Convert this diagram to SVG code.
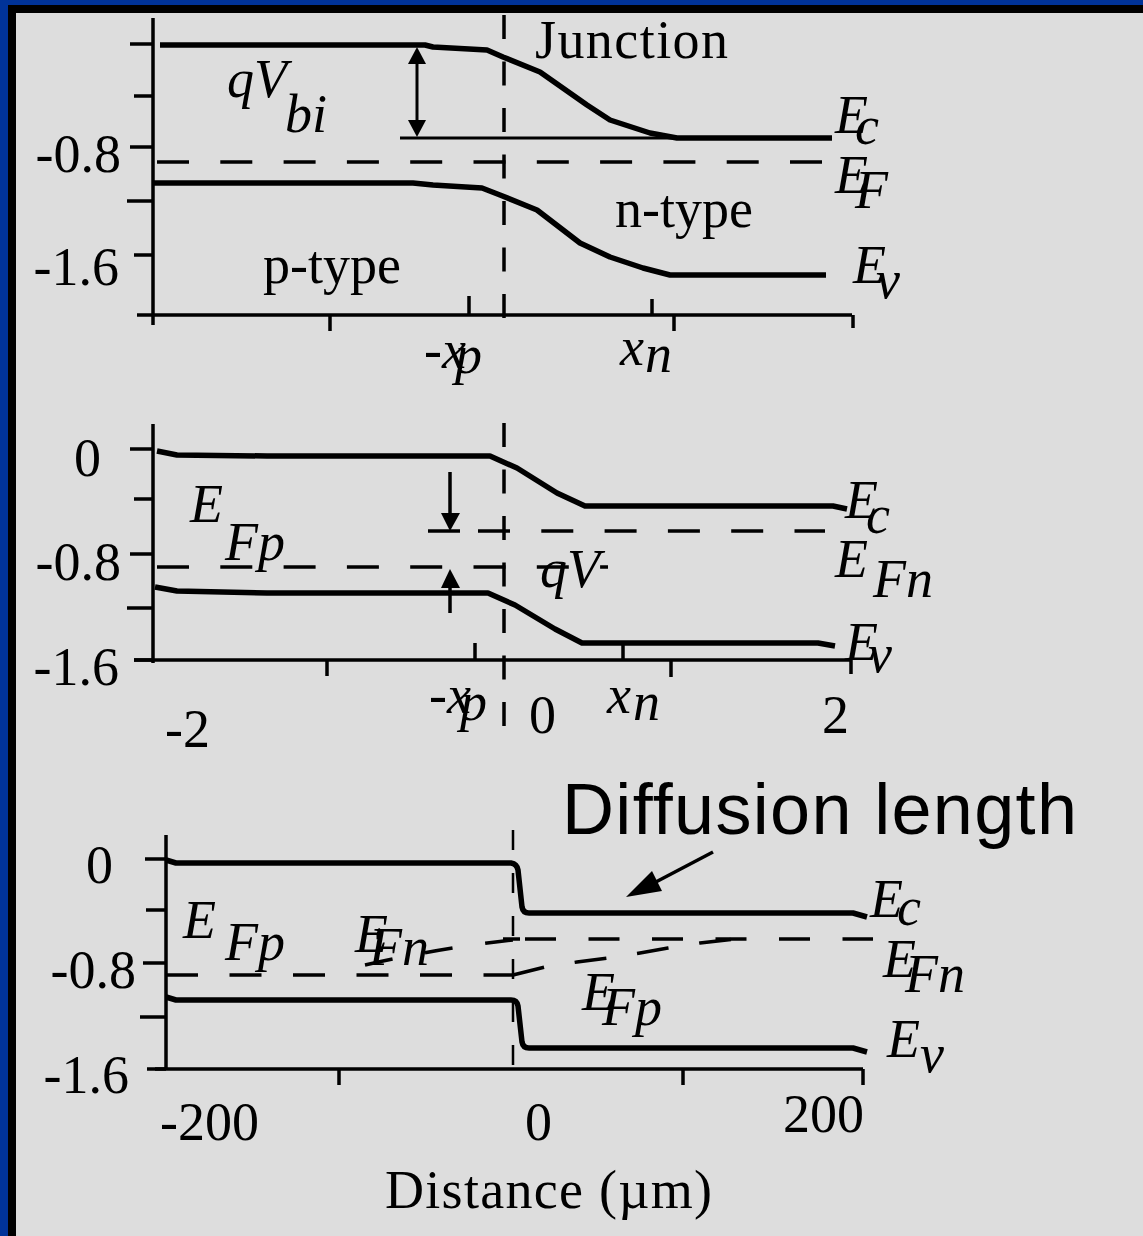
<svg xmlns="http://www.w3.org/2000/svg" width="1143" height="1236" viewBox="0 0 1143 1236">
<style>
.band{fill:none;stroke:#000;stroke-width:5.5;stroke-linejoin:round;stroke-linecap:butt}
.ax{fill:none;stroke:#000;stroke-width:3.5}
.thin{fill:none;stroke:#000;stroke-width:3}
.dash{fill:none;stroke:#000;stroke-width:3.5;stroke-dasharray:32 31.3}
.vdash{fill:none;stroke:#000;stroke-width:3.5;stroke-dasharray:24 22.5}
.t{font-family:"Liberation Serif","Times New Roman",serif;font-size:54px;fill:#000}
.i{font-style:italic}
.sans{font-family:"Liberation Sans",Arial,sans-serif;font-size:72px;fill:#000}
</style>
<g id="frame">
<rect x="0" y="0" width="1143" height="1236" fill="#dddddd"/>
<rect x="0" y="0" width="1143" height="5" fill="#003399"/>
<rect x="0" y="0" width="8" height="1236" fill="#003399"/>
<rect x="8" y="5" width="1135" height="8" fill="#000"/>
<rect x="8" y="5" width="8" height="1231" fill="#000"/>
</g>
<g id="panel1">
<g id="p1-axes" class="ax">
<path d="M153 18V325M130 44H153M134 96H153M130 147H153M127 201H153M134 255H153"/>
<path d="M137 315H852M330 315V331M469 296V315M652 299V315M674 315V331M853 315V328"/>
</g>
<g id="p1-connectors">
<path class="band" d="M160 45H425L433 47L487 50L503 57L540 72L587 105L610 120L650 133L677 138H832"/>
<path class="band" d="M153 183H413L433 185L482 188L500 195L537 210L580 243L610 257L643 268L670 275H826"/>
<path class="thin" d="M400 138H680"/>
<path class="dash" d="M157 162H822"/>
<path class="vdash" d="M504 15V331"/>
<path class="thin" d="M417 60V122"/>
<polygon points="417,47 408,64 426,64"/>
<polygon points="417,137 408,120 426,120"/>
</g>
<g id="p1-labels" class="t">
<text x="121" y="172" text-anchor="end">-0.8</text>
<text x="119" y="285" text-anchor="end">-1.6</text>
<text x="535" y="58" textLength="193">Junction</text>
<text class="i" x="227" y="97">qV<tspan x="285" y="132">bi</tspan></text>
<text x="263" y="283">p-type</text>
<text x="615" y="227">n-type</text>
<text class="i" x="835" y="133">E<tspan x="855" y="144">c</tspan></text>
<text class="i" x="835" y="193">E<tspan x="855" y="208">F</tspan></text>
<text class="i" x="853" y="283">E<tspan x="876" y="298">v</tspan></text>
<text class="i" x="424" y="368">-x<tspan x="455" y="373">p</tspan></text>
<text class="i" x="620" y="365">x<tspan x="645" y="372">n</tspan></text>
</g>
</g>
<g id="panel2">
<g id="p2-axes" class="ax">
<path d="M153 424V663M130 449H153M134 499H153M130 554H153M127 608H153M134 660H153"/>
<path d="M134 660H852M327 660V676M475 643V660M623 645V660M671 660V677M851 660V674"/>
</g>
<g id="p2-connectors">
<path class="band" d="M157 451L177 455L267 456H490L517 468L557 493L585 506H833L847 509"/>
<path class="band" d="M155 587L177 591L267 593H488L515 605L555 629L582 643H818L835 646"/>
<path class="dash" d="M157 567H608"/>
<path class="ax" d="M428 531H460"/>
<path class="dash" d="M478 531H825"/>
<path class="vdash" d="M504 423V737"/>
<path class="ax" d="M450 472V515"/>
<polygon points="450,531 441,513 460,513"/>
<path class="ax" d="M450 613V586"/>
<polygon points="450,569 441,588 460,588"/>
</g>
<g id="p2-labels" class="t">
<text x="101" y="476" text-anchor="end">0</text>
<text x="121" y="580" text-anchor="end">-0.8</text>
<text x="119" y="685" text-anchor="end">-1.6</text>
<text x="165" y="747">-2</text>
<text x="529" y="733">0</text>
<text x="822" y="733">2</text>
<text class="i" x="190" y="522">E<tspan x="225" y="560">Fp</tspan></text>
<text class="i" x="540" y="587">qV</text>
<text class="i" x="845" y="518">E<tspan x="866" y="533">c</tspan></text>
<text class="i" x="835" y="577">E<tspan x="873" y="597">Fn</tspan></text>
<text class="i" x="845" y="660">E<tspan x="868" y="672">v</tspan></text>
<text class="i" x="429" y="713">-x<tspan x="460" y="720">p</tspan></text>
<text class="i" x="607" y="713">x<tspan x="633" y="720">n</tspan></text>
</g>
</g>
<g id="panel3">
<g id="p3-axes" class="ax">
<path d="M166 835V1069M145 859H166M146 910H166M143 963H166M140 1017H166M147 1069H166"/>
<path d="M155 1069H863M339 1069V1085M683 1069V1085M863 1069V1085"/>
</g>
<g id="p3-connectors">
<path class="band" d="M166 860L176 863H511Q517 864 518 870L522 907Q523 913 529 913H853L867 917"/>
<path class="band" d="M166 997L176 1000H511Q517 1000 518 1006L522 1042Q523 1048 529 1048H853L867 1052"/>
<path fill="none" stroke="#000" stroke-width="2.5" stroke-dasharray="20 23" d="M513 830V1085"/>
<path class="dash" style="stroke-dasharray:32 31.5" d="M166 975H513"/>
<path class="dash" style="stroke-dasharray:32 31" d="M513 975L545 967L577 962L608 958L640 953L668 948L700 943L735 939"/>
<path class="dash" style="stroke-dasharray:28 33" d="M365 965Q445 947 513 940"/>
<path class="ax" d="M503 939H520"/>
<path class="dash" style="stroke-dasharray:31 32.5" d="M525 939H873"/>
<path class="ax" d="M713 852L652 884"/>
<polygon points="626,897 652,871 662,891"/>
</g>
<g id="p3-labels" class="t">
<text x="113" y="883" text-anchor="end">0</text>
<text x="136" y="988" text-anchor="end">-0.8</text>
<text x="129" y="1093" text-anchor="end">-1.6</text>
<text x="160" y="1140">-200</text>
<text x="525" y="1140">0</text>
<text x="783" y="1132">200</text>
<text x="385" y="1208" textLength="327">Distance (µm)</text>
<text class="sans" x="562" y="834" textLength="515">Diffusion length</text>
<text class="i" x="183" y="938">E<tspan x="225" y="960">Fp</tspan></text>
<text class="i" x="355" y="952">E<tspan x="369" y="965">Fn</tspan></text>
<text class="i" x="582" y="1010">E<tspan x="602" y="1025">Fp</tspan></text>
<text class="i" x="870" y="917">E<tspan x="897" y="925">c</tspan></text>
<text class="i" x="883" y="977">E<tspan x="905" y="992">Fn</tspan></text>
<text class="i" x="887" y="1057">E<tspan x="920" y="1072">v</tspan></text>
</g>
</g>
</svg>
